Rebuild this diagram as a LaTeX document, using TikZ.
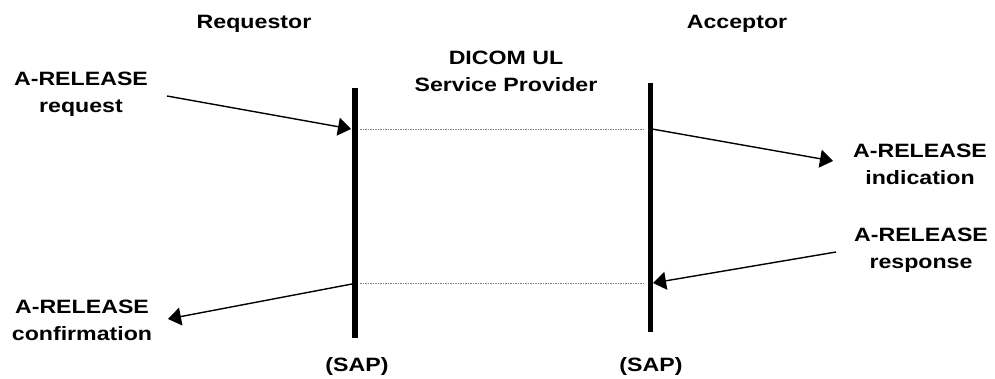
\documentclass[tikz,border=0pt]{standalone}
\usepackage{fontspec}
\setmainfont{Liberation Sans}[FakeStretch=1.2]
\usetikzlibrary{arrows.meta}
\begin{document}
\begin{tikzpicture}[x=1pt,y=-1pt,
  lbl/.style={font=\fontsize{19.3}{27}\selectfont\bfseries, align=center, inner sep=0pt},
  sapbar/.style={line width=6pt},
  msg/.style={line width=1.4pt, -{Triangle[length=13pt,width=18pt]}},
  sapline/.style={gray, line width=0.8pt, dash pattern=on 1.5pt off 1pt}]
\useasboundingbox (0,0) rectangle (995,379);
% service access points of both users
\coordinate (lt) at (355,88);
\coordinate (lb) at (355,338);
\coordinate (rt) at (650,83);
\coordinate (rb) at (650,332);
\draw[sapbar] (lt) -- (lb);
\draw[sapbar, line width=5pt] (rt) -- (rb);
% points where primitives meet the provider
\coordinate (l1) at (351,129);
\coordinate (r1) at (652,129);
\coordinate (l2) at (352,284);
\coordinate (r2) at (653,283);
\coordinate (l1d) at (360,129);
\coordinate (r1d) at (645,129);
\coordinate (l2d) at (360,283);
\coordinate (r2d) at (645,283);
\draw[sapline] (l1d) -- (r1d);
\draw[sapline] (l2d) -- (r2d);
% headings
\node[lbl] (req) at (254,24) {Requestor};
\node[lbl] (acc) at (737,24) {Acceptor};
\node[lbl] (prov) at (506,71) {DICOM UL\\Service Provider};
\node[lbl] (sapl) at (357,367) {(SAP)};
\node[lbl] (sapr) at (651,367) {(SAP)};
% primitives
\node[lbl] (rq) at (81,94) {A-RELEASE\\request};
\node[lbl] (ind) at (920,164) {A-RELEASE\\indication};
\node[lbl] (rsp) at (921,250) {A-RELEASE\\response};
\node[lbl] (cnf) at (82,320) {A-RELEASE\\confirmation};
\coordinate (rqs) at (167,96);
\coordinate (inde) at (833,161);
\coordinate (rsps) at (836,252);
\coordinate (cnfe) at (168,319);
\draw[msg] (rqs) -- (l1);
\draw[msg] (r1) -- (inde);
\draw[msg] (rsps) -- (r2);
\draw[msg] (l2) -- (cnfe);
\end{tikzpicture}
\end{document}
